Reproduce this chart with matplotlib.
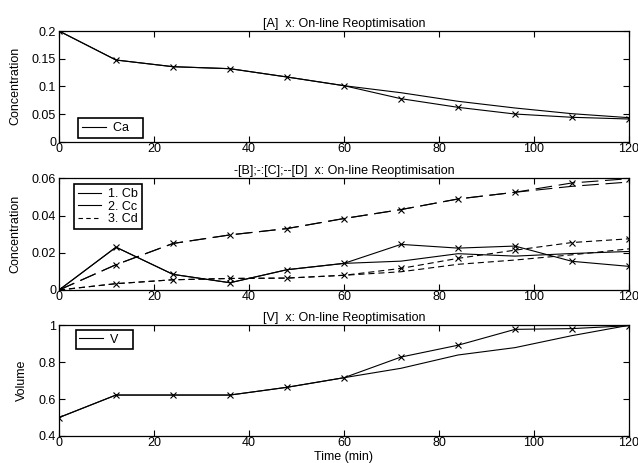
import matplotlib
matplotlib.use("Agg")
import matplotlib.pyplot as plt
from matplotlib.lines import Line2D
from matplotlib.ticker import FuncFormatter

# ---------------- data ----------------
t = [0, 12, 24, 36, 48, 60, 72, 84, 96, 108, 120]

ca_nom = [0.2, 0.1476, 0.1355, 0.1319, 0.1169, 0.1012, 0.0885, 0.0730, 0.0609, 0.0506, 0.0434]
ca_opt = [0.2, 0.1476, 0.1355, 0.1319, 0.1169, 0.1012, 0.0777, 0.0621, 0.0500, 0.0441, 0.0410]

cb_nom = [0, 0.0230, 0.0084, 0.0039, 0.0109, 0.0143, 0.0155, 0.0195, 0.0182, 0.0196, 0.0207]
cb_opt = [0, 0.0230, 0.0084, 0.0039, 0.0109, 0.0143, 0.0245, 0.0225, 0.0236, 0.0154, 0.0127]

cc_nom = [0, 0.0136, 0.0250, 0.0296, 0.0330, 0.0384, 0.0432, 0.0489, 0.0525, 0.0557, 0.0580]
cc_opt = [0, 0.0136, 0.0250, 0.0296, 0.0330, 0.0384, 0.0432, 0.0489, 0.0525, 0.0575, 0.0598]

cd_nom = [0, 0.0034, 0.0055, 0.0062, 0.0064, 0.0079, 0.0098, 0.0138, 0.0161, 0.0189, 0.0221]
cd_opt = [0, 0.0034, 0.0055, 0.0062, 0.0064, 0.0079, 0.0116, 0.0170, 0.0214, 0.0255, 0.0275]

v_nom = [0.5, 0.622, 0.622, 0.622, 0.664, 0.716, 0.767, 0.839, 0.879, 0.944, 1.0]
v_opt = [0.5, 0.622, 0.622, 0.622, 0.664, 0.716, 0.828, 0.892, 0.978, 0.982, 0.998]

xticks = [0, 20, 40, 60, 80, 100, 120]
yticks_a = [0, 0.05, 0.1, 0.15, 0.2]
yticks_b = [0, 0.02, 0.04, 0.06]
yticks_v = [0.4, 0.6, 0.8, 1.0]

titles = ["[A]  x: On-line Reoptimisation",
          "-[B];-:[C];--[D]  x: On-line Reoptimisation",
          "[V]  x: On-line Reoptimisation"]

# ---------------- style ----------------
plt.rcParams['font.family'] = ['Liberation Sans', 'DejaVu Sans']
plt.rcParams['font.size'] = 9
FS = 9
LW = 0.8
MS = 4.5
DASH_LONG = (0, (15, 6))
DASH_SHORT = (0, (5.5, 3.5))

fig = plt.figure(figsize=(6.38, 4.63), dpi=100)
L, W = 59 / 638, 570 / 638
H = 463.0
ax_a = fig.add_axes([L, 1 - 141.7 / H, W, 110.7 / H])
ax_b = fig.add_axes([L, 1 - 290.0 / H, W, 111.7 / H])
ax_v = fig.add_axes([L, 1 - 436.0 / H, W, 110.7 / H])

fmt = FuncFormatter(lambda v, p: ('%g' % round(v, 6)))


def style(ax, yticks, ylim, title):
    ax.set_xlim(0, 120)
    ax.set_ylim(*ylim)
    ax.set_xticks(xticks)
    ax.set_yticks(yticks)
    ax.yaxis.set_major_formatter(fmt)
    ax.xaxis.set_major_formatter(fmt)
    ax.tick_params(direction='in', top=True, right=True, length=4.5, width=0.8,
                   labelsize=FS, colors='black')
    ax.tick_params(axis='x', pad=1.0)
    ax.tick_params(axis='y', pad=2.0)
    for s in ax.spines.values():
        s.set_linewidth(0.9)
        s.set_color('black')
    ax.set_title(title, fontsize=FS, pad=3)


def legend(ax, handles, labels, loc, anchor):
    lg = ax.legend(handles, labels, loc=loc, bbox_to_anchor=anchor, borderaxespad=0,
                   fontsize=FS, frameon=True, fancybox=False, framealpha=1,
                   edgecolor='black', handlelength=1.9, handletextpad=0.55,
                   borderpad=0.3, labelspacing=0.04)
    lg.get_frame().set_linewidth(1.2)
    return lg


# ---- panel A ----
ax_a.plot(t, ca_nom, color='black', lw=LW)
ax_a.plot(t, ca_opt, color='black', lw=LW, marker='x', ms=MS, mew=0.8)
style(ax_a, yticks_a, (0, 0.2), titles[0])
ax_a.set_ylabel('Concentration', fontsize=FS)
ax_a.yaxis.set_label_coords(-0.066, 0.5)
legend(ax_a, [Line2D([], [], color='black', lw=LW)], ['Ca   '], 'lower left', (0.034, 0.036))

# ---- panel B ----
ax_b.plot(t, cb_nom, color='black', lw=LW)
ax_b.plot(t, cb_opt, color='black', lw=LW, marker='x', ms=MS, mew=0.8)
ax_b.plot(t, cc_nom, color='black', lw=LW, ls=DASH_LONG)
ax_b.plot(t, cc_opt, color='black', lw=LW, ls=DASH_LONG, marker='x', ms=MS, mew=0.8)
ax_b.plot(t, cd_nom, color='black', lw=LW, ls=DASH_SHORT)
ax_b.plot(t, cd_opt, color='black', lw=LW, ls=DASH_SHORT, marker='x', ms=MS, mew=0.8)
style(ax_b, yticks_b, (0, 0.06), titles[1])
ax_b.set_ylabel('Concentration', fontsize=FS)
ax_b.yaxis.set_label_coords(-0.066, 0.5)
legend(ax_b,
       [Line2D([], [], color='black', lw=LW),
        Line2D([], [], color='black', lw=LW),
        Line2D([], [], color='black', lw=LW, ls=(0, (4, 3)))],
       ['1. Cb', '2. Cc', '3. Cd'], 'upper left', (0.026, 0.946))

# ---- panel V ----
ax_v.plot(t, v_nom, color='black', lw=LW)
ax_v.plot(t, v_opt, color='black', lw=LW, marker='x', ms=MS, mew=0.8)
style(ax_v, yticks_v, (0.4, 1.0), titles[2])
ax_v.set_ylabel('Volume', fontsize=FS)
ax_v.yaxis.set_label_coords(-0.054, 0.5)
ax_v.set_xlabel('Time (min)', fontsize=FS, labelpad=1)
legend(ax_v, [Line2D([], [], color='black', lw=LW)], ['V   '], 'upper left', (0.029, 0.958))

fig.savefig('out.png', dpi=100, facecolor='white')
